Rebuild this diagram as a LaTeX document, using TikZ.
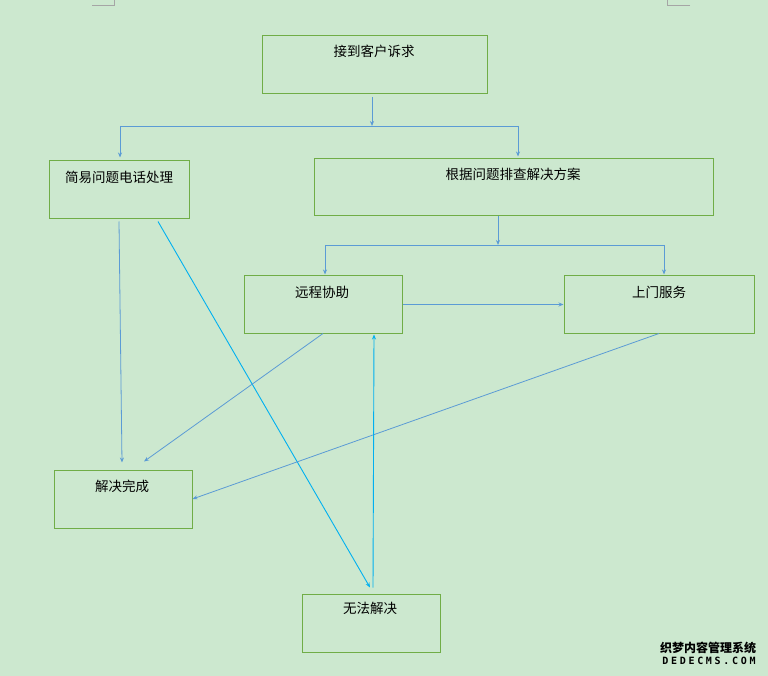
\documentclass[tikz,border=0pt]{standalone}
\usepackage{fontspec}
\newfontfamily\cjk{Noto Sans CJK SC}
\newfontfamily\wmmono[LetterSpace=27]{DejaVu Sans Mono}
\usetikzlibrary{arrows.meta}
\definecolor{bg}{RGB}{204,232,207}
\definecolor{boxgreen}{RGB}{112,173,71}
\definecolor{arrowblue}{RGB}{91,155,213}
\definecolor{arrowcyan}{RGB}{0,176,240}
\definecolor{markgray}{RGB}{165,165,165}
\begin{document}
\begin{tikzpicture}[x=1pt,y=-1pt,
 box/.style={draw=boxgreen, line width=1pt, rectangle, inner sep=0pt},
 lbl/.style={font=\cjk\fontsize{13.5}{14}\selectfont, text=black, inner sep=0pt},
 conn/.style={draw=arrowblue, line width=0.8pt},
 arr/.style={conn, -{Stealth[length=5pt,width=4pt]}},
 carr/.style={draw=arrowcyan, line width=0.9pt, -{Stealth[length=5pt,width=4pt]}},
 wm/.style={text=black, inner sep=0pt}]
\fill[bg] (0,0) rectangle (768,676);
\useasboundingbox (0,0) rectangle (768,676);
% corner marks
\draw[markgray, line width=0.8pt] (92,5) -- (114,5) -- (114,0);
\draw[markgray, line width=0.8pt] (690,5) -- (667,5) -- (667,0);
% boxes
\node[box, minimum width=225pt, minimum height=58pt] (A) at (374.5,65) {};
\node[lbl] (At) at (374,51) {接到客户诉求};
\node[box, minimum width=140pt, minimum height=58pt] (B) at (119,190) {};
\node[lbl] (Bt) at (119,177) {简易问题电话处理};
\node[box, minimum width=399pt, minimum height=57pt] (C) at (513.5,187.5) {};
\node[lbl] (Ct) at (513,174) {根据问题排查解决方案};
\node[box, minimum width=158pt, minimum height=57pt] (D) at (323,304.5) {};
\node[lbl] (Dt) at (322,292) {远程协助};
\node[box, minimum width=190pt, minimum height=57pt] (E) at (659,304.5) {};
\node[lbl] (Et) at (659,292) {上门服务};
\node[box, minimum width=138pt, minimum height=58pt] (F) at (123,499) {};
\node[lbl] (Ft) at (122,486) {解决完成};
\node[box, minimum width=138pt, minimum height=58pt] (G) at (371,623) {};
\node[lbl] (Gt) at (370,608) {无法解决};
% junctions
\coordinate (j1) at (372,126);
\coordinate (jl) at (120,126);
\coordinate (jr) at (518,126);
\coordinate (j2) at (498,245);
\coordinate (jl2) at (325,245);
\coordinate (jr2) at (664,245);
% connectors
\draw[arr] ([yshift=-3pt]A.south -| j1) -- (j1);
\draw[conn] (jl) -- (jr);
\draw[arr] (jl) -- ([yshift=3pt]B.north -| jl);
\draw[arr] (jr) -- ([yshift=2pt]C.north -| jr);
\draw[arr] (C.south -| j2) -- (j2);
\draw[conn] (jl2) -- (jr2);
\draw[arr] (jl2) -- ([yshift=1pt]D.north -| jl2);
\draw[arr] (jr2) -- ([yshift=1pt]E.north -| jr2);
\draw[arr] (D.east) -- (E.west);
\draw[arr] ([yshift=-2pt]B.south) -- ([xshift=-1pt,yshift=7pt]F.north);
\draw[carr] ([xshift=39pt,yshift=-2pt]B.south) -- ([xshift=-1pt,yshift=6pt]G.north);
\draw[arr] (D.south) -- ([xshift=21pt,yshift=8pt]F.north);
\draw[arr] (E.south) -- (F.east);
\draw[carr] ([xshift=2pt,yshift=6pt]G.north) -- ([xshift=51pt,yshift=-1pt]D.south);
% watermark
\node[wm, font=\cjk\bfseries\fontsize{12}{12}\selectfont] (wm1) at (708,648) {织梦内容管理系统};
\node[wm, font=\wmmono\bfseries\fontsize{10}{10}\selectfont] (wm2) at (709,661) {DEDECMS.COM};
\end{tikzpicture}
\end{document}
